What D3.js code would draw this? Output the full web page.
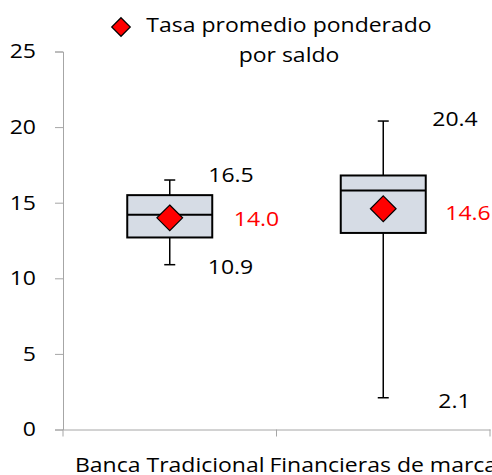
<!DOCTYPE html>
<html>
<head>
<meta charset="utf-8">
<script src="https://cdn.jsdelivr.net/npm/d3@7"></script>
<style>
  body { margin: 0; background: #fff; }
  svg { display: block; font-family: "Open Sans", "Liberation Sans", sans-serif; }
</style>
</head>
<body>
<div id="chart"></div>
<script>
// chart values
const categories = ["Banca Tradicional", "Financieras de marca"];
const whiskerLow = [10.9, 2.1];
const quartile1 = [12.7, 13.0];
const medians = [14.2, 15.8];
const quartile3 = [15.5, 16.8];
const whiskerHigh = [16.5, 20.4];
const means = [14.0, 14.6];
const yTicks = [0, 5, 10, 15, 20, 25];
const legendLines = ["Tasa promedio ponderado", "por saldo"];

const width = 492, height = 475;
const margin = {top: 51.5, right: 2, bottom: 45.5, left: 63};
const fontSize = 20;
const stretch = 1.15; //text in the original is a bit wider than Open Sans

const svg = d3.select("#chart").append("svg")
    .attr("width", width)
    .attr("height", height);

//places a text at (x,y) with the horizontal stretch
function placeText(sel, xFn, yFn){
    return sel.attr("transform", (d, i) => `translate(${xFn(d, i)},${yFn(d, i)}) scale(${stretch},1)`);
}

const x = d3.scaleBand()
    .domain(categories)
    .range([margin.left, width - margin.right])
    .padding(0);

const y = d3.scaleLinear()
    .domain([0, 25])
    .range([height - margin.bottom, margin.top]);

const axisColor = "#a6a6a6";

//y axis
const yAxis = svg.append("g")
    .attr("transform", `translate(${margin.left},0)`)
    .call(d3.axisLeft(y).tickValues(yTicks).tickSize(8).tickPadding(0));
yAxis.select(".domain").attr("stroke", axisColor);
yAxis.selectAll(".tick line").attr("stroke", axisColor);
yAxis.selectAll(".tick text")
    .attr("x", null)
    .attr("transform", `translate(-27,0) scale(${stretch},1)`)
    .attr("font-size", fontSize)
    .attr("fill", "#000")
    .attr("font-family", "'Open Sans', sans-serif");

//x axis
const xAxis = svg.append("g")
    .attr("transform", `translate(0,${y(0)})`)
    .call(d3.axisBottom(x).tickSize(0).tickFormat(""));
xAxis.select(".domain").attr("stroke", axisColor);
xAxis.selectAll(".tick").remove();
const xBounds = [margin.left].concat(categories.map(c => x(c) + x.bandwidth()));
xAxis.selectAll(".xtick")
    .data(xBounds)
    .join("line")
    .attr("x1", d => Math.min(d, width - 2))
    .attr("x2", d => Math.min(d, width - 2))
    .attr("y1", 0)
    .attr("y2", 7)
    .attr("stroke", axisColor);

placeText(svg.selectAll(".cat-label")
    .data(categories)
    .join("text")
    .attr("class", "cat-label")
    .attr("text-anchor", "middle")
    .attr("font-size", fontSize)
    .text(d => d),
    d => x(d) + x.bandwidth() / 2, () => 472);

// box plots
const boxWidth = 85;
const capWidth = 11;
const rows = categories.map((c, i) => ({
    cat: c, lo: whiskerLow[i], q1: quartile1[i], med: medians[i],
    q3: quartile3[i], hi: whiskerHigh[i], mean: means[i], first: i === 0
}));

const groups = svg.selectAll(".box")
    .data(rows)
    .join("g")
    .attr("class", "box")
    .attr("transform", d => `translate(${x(d.cat) + x.bandwidth() / 2},0)`);

groups.append("line")
    .attr("x1", 0).attr("x2", 0)
    .attr("y1", d => y(d.hi)).attr("y2", d => y(d.lo))
    .attr("stroke", "#000").attr("stroke-width", 1.5);

groups.append("line")
    .attr("x1", -capWidth / 2).attr("x2", capWidth / 2)
    .attr("y1", d => y(d.hi)).attr("y2", d => y(d.hi))
    .attr("stroke", "#000").attr("stroke-width", 1.5);

groups.append("line")
    .attr("x1", -capWidth / 2).attr("x2", capWidth / 2)
    .attr("y1", d => y(d.lo)).attr("y2", d => y(d.lo))
    .attr("stroke", "#000").attr("stroke-width", 1.5);

groups.append("rect")
    .attr("x", -boxWidth / 2)
    .attr("width", boxWidth)
    .attr("y", d => y(d.q3))
    .attr("height", d => y(d.q1) - y(d.q3))
    .attr("fill", "#d6dce5")
    .attr("stroke", "#000")
    .attr("stroke-width", 2);

groups.append("line")
    .attr("x1", -boxWidth / 2).attr("x2", boxWidth / 2)
    .attr("y1", d => y(d.med)).attr("y2", d => y(d.med))
    .attr("stroke", "#000").attr("stroke-width", 2);

const diamond = d3.symbol().type(d3.symbolDiamond2).size(420);

groups.append("path")
    .attr("d", diamond)
    .attr("transform", d => `translate(0,${y(d.mean)})`)
    .attr("fill", "#ff0000")
    .attr("stroke", "#000")
    .attr("stroke-width", 1.2);

// value labels
const fmt = d3.format(".1f");
placeText(groups.append("text")
    .attr("dy", "0.35em")
    .attr("font-size", fontSize)
    .text(d => fmt(d.hi)),
    d => d.first ? 38.5 : 49, d => y(d.hi) + (d.first ? -5 : -2.5));

placeText(groups.append("text")
    .attr("dy", "0.35em")
    .attr("font-size", fontSize)
    .text(d => fmt(d.lo)),
    d => d.first ? 38 : 55, d => y(d.lo) + (d.first ? 2 : 3));

placeText(groups.append("text")
    .attr("dy", "0.35em")
    .attr("font-size", fontSize)
    .attr("fill", "#ff0000")
    .text(d => fmt(d.mean)),
    d => d.first ? 64 : 62, d => y(d.mean) + (d.first ? 1.5 : 4.5));

// legend
svg.append("path")
    .attr("d", d3.symbol().type(d3.symbolDiamond2).size(220))
    .attr("transform", "translate(121,27)")
    .attr("fill", "#ff0000")
    .attr("stroke", "#000")
    .attr("stroke-width", 1.2);

placeText(svg.selectAll(".legend-text")
    .data(legendLines)
    .join("text")
    .attr("class", "legend-text")
    .attr("dy", "0.35em")
    .attr("text-anchor", "middle")
    .attr("font-size", fontSize)
    .text(d => d),
    () => 289, (d, i) => 25 + i * 30);
</script>
</body>
</html>
